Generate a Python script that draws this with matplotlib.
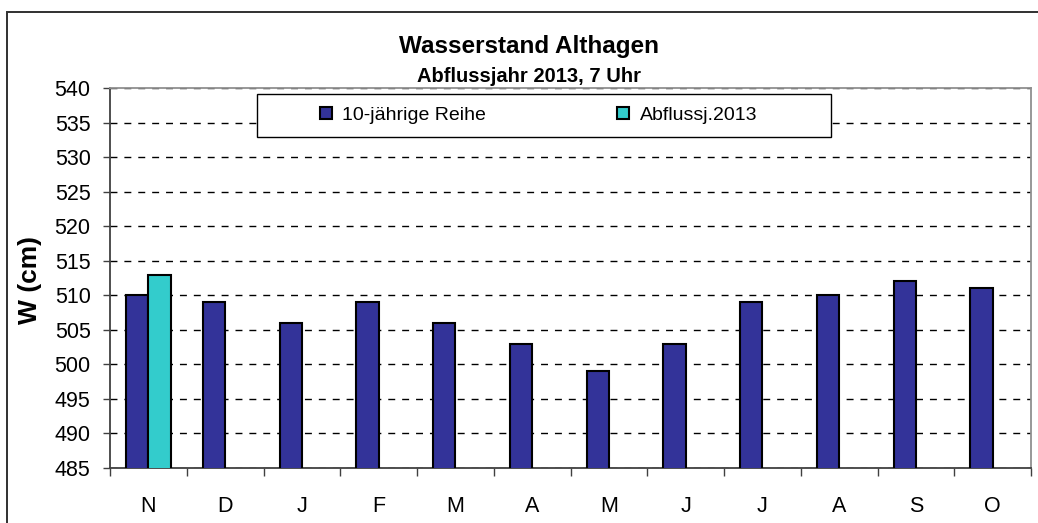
import numpy as np
import matplotlib
matplotlib.use("Agg")
from matplotlib import pyplot as plt
from matplotlib.patches import Rectangle

# monthly water level, Althagen (cm)
months = ["N", "D", "J", "F", "M", "A", "M", "J", "J", "A", "S", "O"]
reihe_10j = [510, 509, 506, 509, 506, 503, 499, 503, 509, 510, 512, 511]
abfluss_2013 = [513]  # only November available so far

plt.rcParams["font.family"] = ["Liberation Sans", "DejaVu Sans"]

W, H = 1038, 523
fig = plt.figure(figsize=(W / 100, H / 100), dpi=100)

def fx(px):
  return px / W

def fy(py):
  return (H - py) / H

ax = fig.add_axes([fx(110), fy(468), fx(1031) - fx(110), fy(88) - fy(468)])

x = np.arange(len(months))
bw = 0.29
b1 = ax.bar(x - bw / 2, reihe_10j, width=bw, bottom=0, color="#333399",
            edgecolor="black", linewidth=1.5, zorder=3, label="10-jährige Reihe")
b2 = ax.bar(x[:len(abfluss_2013)] + bw / 2, abfluss_2013, width=bw, color="#33CCCC",
            edgecolor="black", linewidth=1.5, zorder=3, label="Abflussj.2013")

ax.set_ylim(485, 540)
ax.set_xlim(-0.5, len(months) - 0.5)
ax.set_yticks(np.arange(485, 541, 5))
ax.tick_params(axis="y", direction="out", length=5, width=1, color="#404040",
               labelsize=15.5, pad=9)

ax.set_xticks(x)
ax.set_xticklabels(months)
ax.set_xticks(np.arange(-0.5, len(months), 1), minor=True)
ax.tick_params(axis="x", which="major", length=0, labelsize=15.5, pad=20)
ax.tick_params(axis="x", which="minor", direction="out", length=6, width=1, color="#404040")

ax.yaxis.grid(True, color="black", linestyle=(0, (5, 5)), linewidth=1, zorder=1)
ax.set_axisbelow(True)

for side in ["left", "bottom"]:
  ax.spines[side].set_color("#404040")
  ax.spines[side].set_linewidth(1.3)
for side in ["top", "right"]:
  ax.spines[side].set_color("#909090")
  ax.spines[side].set_linewidth(1.3)

# legend box
fig.patches.append(Rectangle((fx(257), fy(137)), fx(831) - fx(257), fy(94) - fy(137),
                             transform=fig.transFigure, facecolor="white",
                             edgecolor="black", linewidth=1, zorder=5))
leg = fig.legend(handles=[b1, b2], loc="center left",
                 bbox_to_anchor=(fx(320), fy(115.5)), ncol=2, frameon=False,
                 fontsize=14, handlelength=0.6, handleheight=0.6,
                 handletextpad=0.55, columnspacing=6.75, borderpad=0, borderaxespad=0)
leg.set_zorder(6)

# outer chart border
fig.patches.append(Rectangle((fx(7), fy(530)), fx(1045) - fx(7), fy(12) - fy(530),
                             transform=fig.transFigure, facecolor="none",
                             edgecolor="#303030", linewidth=1.4))

fig.text(fx(529), fy(53), "Wasserstand Althagen", ha="center", va="baseline",
         fontsize=17.5, fontweight="bold")
fig.text(fx(529), fy(82), "Abflussjahr 2013, 7 Uhr", ha="center", va="baseline",
         fontsize=14.5, fontweight="bold")
fig.text(fx(30), fy(280), "W (cm)", ha="center", va="center", rotation=90,
         fontsize=19, fontweight="bold")

fig.savefig("out.png", dpi=100)
